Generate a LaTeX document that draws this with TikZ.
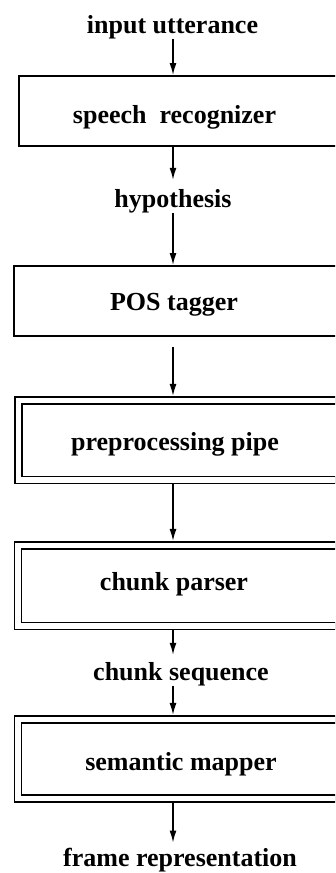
\documentclass[tikz,border=0pt]{standalone}
\usepackage{fontspec}
\setmainfont{Liberation Serif}
\usetikzlibrary{arrows.meta}
\begin{document}
\begin{tikzpicture}[x=1pt,y=-1pt,
  lbl/.style={inner sep=0pt,anchor=base,font=\fontsize{26}{30}\selectfont\bfseries},
  sbox/.style={draw,line width=1.6pt,anchor=north west,inner sep=0pt},
  dbox/.style={draw,line width=1.5pt,double,double distance=5.5pt,anchor=north west,inner sep=0pt},
  arr/.style={line width=1.4pt,-{Latex[length=12pt,width=7pt]}},
]
\fill[white] (0,0) rectangle (335,873);
\useasboundingbox (0,0) rectangle (335,873);
\clip (0,0) rectangle (335,873);
\coordinate (ax) at (173,0);
% boxes
\node[sbox,minimum width=332pt,minimum height=70pt] (b1) at (18,75) {};
\node[sbox,minimum width=337pt,minimum height=70pt] (b2) at (13,265) {};
\node[dbox,minimum width=333pt,minimum height=79.5pt] (b3) at (17.5,399.5) {};
\node[dbox,minimum width=333pt,minimum height=80.5pt] (b4) at (17,544.5) {};
\node[dbox,minimum width=333pt,minimum height=79pt] (b5) at (17,718.5) {};
% labels
\node[lbl] (in) at (172.5,33) {input utterance};
\node[lbl] (t1) at (174.5,123) {speech~~recognizer};
\node[lbl] (hy) at (173,207) {hypothesis};
\node[lbl] (t2) at (174,310) {POS tagger};
\node[lbl] (t3) at (175,450) {preprocessing pipe};
\node[lbl] (t4) at (174,590) {chunk parser};
\node[lbl] (cs) at (181,680) {chunk sequence};
\node[lbl] (t5) at (181,770) {semantic mapper};
\node[lbl] (fr) at (180,866) {frame representation};
% connectors
\draw[arr] (in.south -| ax) -- (b1.north -| ax);
\draw[arr,shorten >=9pt] (b1.south -| ax) -- (hy.north -| ax);
\draw[arr] (hy.south -| ax) -- (b2.north -| ax);
\draw[arr,shorten <=10pt,shorten >=3.6pt] (b2.south -| ax) -- (b3.north -| ax);
\draw[arr,shorten <=3.6pt,shorten >=3.6pt] (b3.south -| ax) -- (b4.north -| ax);
\draw[arr,shorten <=3.6pt,shorten >=7pt] (b4.south -| ax) -- (cs.north -| ax);
\draw[arr,shorten >=3.6pt] (cs.south -| ax) -- (b5.north -| ax);
\draw[arr,shorten <=3.6pt,shorten >=5pt] (b5.south -| ax) -- (fr.north -| ax);
\end{tikzpicture}
\end{document}
